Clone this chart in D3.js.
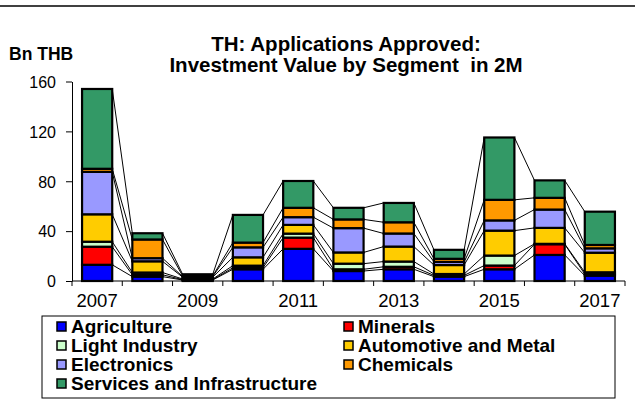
<!DOCTYPE html>
<html lang="en">
<head>
    <meta charset="UTF-8">
    <title>TH: Applications Approved</title>
    <script src="https://d3js.org/d3.v7.min.js"></script>
    <style>
        body { margin: 0; background: #fff; }
        svg { display: block; font-family: "Liberation Sans", Arial, sans-serif; }
        .axis path, .axis line { stroke: #000; stroke-width: 1; }
        .axis text { fill: #000; }
    </style>
</head>
<body>
    <svg width="635" height="403"></svg>
    <script>
        // Data (Bn THB)
        const years = [2007, 2008, 2009, 2010, 2011, 2012, 2013, 2014, 2015, 2016, 2017];
        const agriculture   = [13, 3.5, 0.8, 9.4, 25.8, 8, 9.4, 3.5, 9.4, 20.9, 4.3];
        const minerals      = [14.5, 1.5, 0.3, 1.2, 9, 1.4, 2, 1, 3, 8.6, 1.2];
        const lightIndustry = [4, 1.8, 0.5, 1.7, 3.2, 4.5, 4.2, 1.1, 8, 0.3, 1.5];
        const automotive    = [22, 9, 1.5, 6.7, 7, 9, 12, 7.2, 20, 12.8, 15.7];
        const electronics   = [34, 2.5, 0.5, 8, 6.2, 19.5, 10.5, 2.5, 8.2, 14.7, 3.5];
        const chemicals     = [2.5, 15, 0.5, 3.8, 7.5, 7, 9, 2.5, 16.5, 9.4, 2.7];
        const services      = [64, 5, 1.3, 22.2, 21.5, 9.3, 15.5, 7.2, 50, 14, 26.7];

        const seriesNames = ["Agriculture", "Minerals", "Light Industry", "Automotive and Metal",
                             "Electronics", "Chemicals", "Services and Infrastructure"];
        const seriesValues = [agriculture, minerals, lightIndustry, automotive, electronics, chemicals, services];
        const colors = ["#0000ff", "#ff0000", "#ccffcc", "#ffcc00", "#9999ff", "#ff9900", "#339966"];
        const yTicks = [0, 40, 80, 120, 160];

        const svg = d3.select("svg");

        // top rule
        svg.append("line")
            .attr("x1", 0).attr("x2", 635).attr("y1", 6).attr("y2", 6)
            .attr("stroke", "#000").attr("stroke-width", 1.5);

        // table for the stack
        const table = years.map((y, i) => {
            const row = { year: y };
            seriesNames.forEach((s, k) => row[s] = seriesValues[k][i]);
            return row;
        });
        const stacked = d3.stack().keys(seriesNames)(table);

        // scales
        const x = d3.scaleBand()
            .domain(years)
            .range([72, 625])
            .paddingInner(0.4)
            .paddingOuter(0.2);

        const y = d3.scaleLinear()
            .domain([0, 160])
            .range([281, 81.5]);

        // connecting lines between bars
        stacked.forEach(layer => {
            for (let i = 0; i < layer.length - 1; i++) {
                svg.append("line")
                    .attr("x1", x(years[i]) + x.bandwidth())
                    .attr("y1", y(layer[i][1]))
                    .attr("x2", x(years[i + 1]))
                    .attr("y2", y(layer[i + 1][1]))
                    .attr("stroke", "#000")
                    .attr("stroke-width", 1);
            }
        });

        // bars
        svg.append("g")
            .selectAll("g")
            .data(stacked)
            .join("g")
            .attr("fill", (d, k) => colors[k])
            .selectAll("rect")
            .data(d => d)
            .join("rect")
            .attr("x", d => x(d.data.year))
            .attr("y", d => y(d[1]))
            .attr("width", x.bandwidth())
            .attr("height", d => y(d[0]) - y(d[1]))
            .attr("stroke", "#000")
            .attr("stroke-width", 2.2);

        // y axis
        svg.append("g")
            .attr("class", "axis")
            .attr("transform", "translate(72,0)")
            .call(d3.axisLeft(y).tickValues(yTicks).tickSize(6).tickPadding(10).tickSizeOuter(0))
            .selectAll("text").attr("dy", "0.36em").attr("font-size", "16px");

        // x axis: ticks at band edges, labels on every other year
        const xAxis = svg.append("g")
            .attr("class", "axis")
            .attr("transform", "translate(0,281)");
        xAxis.append("line")
            .attr("x1", 72).attr("x2", 625).attr("y1", 0).attr("y2", 0)
            .attr("stroke", "#000");
        const edges = years.map(yr => x(yr) - x.step() * x.paddingInner() / 2).concat([625]);
        edges[0] = 72;
        xAxis.selectAll(".tk")
            .data(edges)
            .join("line")
            .attr("x1", d => d).attr("x2", d => d)
            .attr("y1", 0).attr("y2", 5)
            .attr("stroke", "#000");
        xAxis.selectAll(".lbl")
            .data(years.filter((yr, i) => i % 2 === 0))
            .join("text")
            .attr("x", d => x(d) + x.bandwidth() / 2)
            .attr("y", 26)
            .attr("text-anchor", "middle")
            .attr("font-size", "18.5px")
            .text(d => d);

        // titles
        svg.append("text")
            .attr("x", 9).attr("y", 60)
            .attr("font-size", "17.5px").attr("font-weight", "bold")
            .text("Bn THB");
        const title = svg.append("text")
            .attr("text-anchor", "middle")
            .attr("font-size", "20.5px").attr("font-weight", "bold");
        title.append("tspan").attr("x", 346).attr("y", 51).text("TH: Applications Approved:");
        title.append("tspan").attr("x", 346).attr("y", 72)
            .text("Investment Value by Segment\u00a0 in 2M");

        // legend
        svg.append("rect")
            .attr("x", 42).attr("y", 316).attr("width", 573).attr("height", 82)
            .attr("fill", "none").attr("stroke", "#000");
        const legend = svg.append("g")
            .selectAll("g")
            .data(seriesNames)
            .join("g")
            .attr("transform", (d, i) => `translate(${i % 2 === 0 ? 57 : 344},${326 + Math.floor(i / 2) * 19})`);
        legend.append("rect")
            .attr("x", 0).attr("y", -4)
            .attr("width", 9).attr("height", 9)
            .attr("fill", (d, i) => colors[i])
            .attr("stroke", "#000").attr("stroke-width", 1.5);
        legend.append("text")
            .attr("x", 14).attr("y", 6.5)
            .attr("font-size", "19px").attr("font-weight", "bold")
            .text(d => d);
    </script>
</body>
</html>
